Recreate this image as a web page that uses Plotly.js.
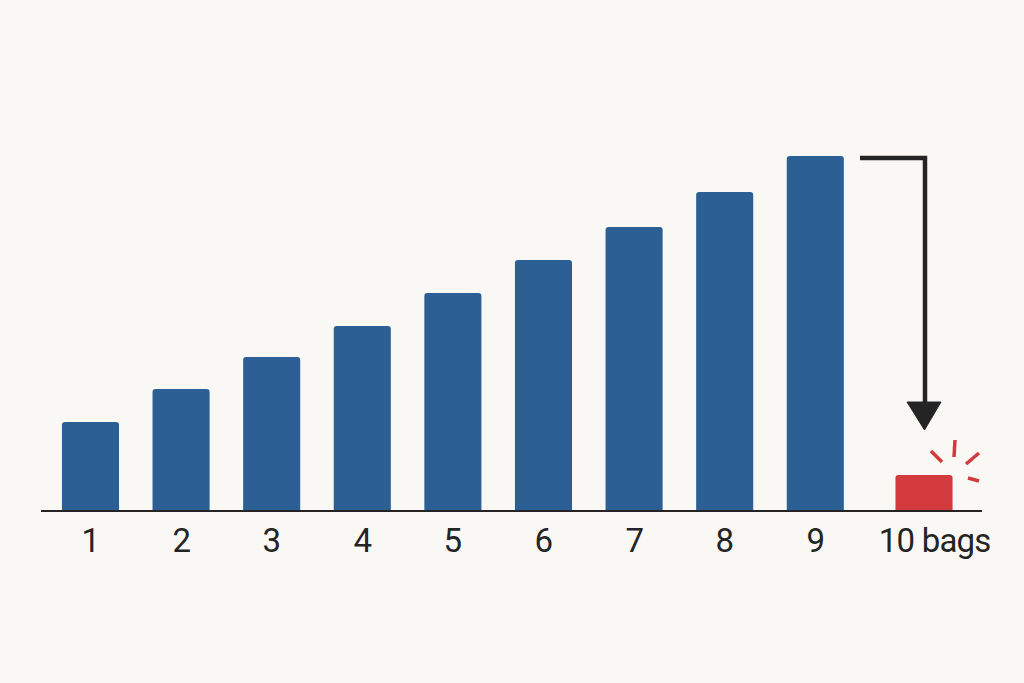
<!DOCTYPE html>
<html>
<head>
<meta charset="utf-8">
<script src="https://cdn.plot.ly/plotly-3.0.1.min.js"></script>
<style>
  html, body { margin: 0; padding: 0; background: #faf8f5; }
  #chart { width: 1024px; height: 683px; }
  #chart .annotation-text { letter-spacing: -0.8px; }
</style>
</head>
<body>
<div id="chart"></div>
<script>
// ---- data ----
const categories = ["1", "2", "3", "4", "5", "6", "7", "8", "9", "10"];
const tickLabels = ["1", "2", "3", "4", "5", "6", "7", "8", "9", "10 bags"];
const growingValues = [88, 121, 153, 184, 217, 250, 283, 318, 354];
const finalValue = [35];

// ---- layout geometry ----
const W = 1024, H = 683;
const M = { l: 41, r: 42, t: 110, b: 173 };
const plotW = W - M.l - M.r, plotH = H - M.t - M.b;
const px = x => (x - M.l) / plotW;           // pixel -> paper x
const py = y => (H - M.b - y) / plotH;        // pixel -> paper y

const blue = "#2c6094";
const red = "#d23a3d";
const ink = "#242424";
const barWidth = 0.63;

const traces = [
  {
    type: "bar",
    x: categories.slice(0, 9),
    y: growingValues,
    width: barWidth,
    marker: { color: blue, cornerradius: 3, line: { width: 0 } },
    hoverinfo: "skip"
  },
  {
    type: "bar",
    x: categories.slice(9),
    y: finalValue,
    width: barWidth,
    offset: -barWidth / 2 + 0.2,
    marker: { color: red, cornerradius: 3, line: { width: 0 } },
    hoverinfo: "skip"
  }
];

const annotations = tickLabels.map((t, i) => ({
  text: t,
  x: i,                       // category index on the category axis
  xref: "x",
  y: -30 / plotH,
  yref: "paper",
  xanchor: "center",
  yanchor: "middle",
  xshift: i === 9 ? 29 : 0,
  showarrow: false,
  font: { family: "Roboto, 'Liberation Sans', sans-serif", size: 33, color: ink }
}));

function seg(x0, y0, x1, y1, color, w) {
  return {
    type: "line", xref: "paper", yref: "paper",
    x0: px(x0), y0: py(y0), x1: px(x1), y1: py(y1),
    line: { color: color, width: w }
  };
}

const shapes = [
  // arrow from top of bar 9 down to the last bar
  {
    type: "path", xref: "paper", yref: "paper",
    path: `M ${px(860)} ${py(158)} L ${px(925)} ${py(158)} L ${px(925)} ${py(404)}`,
    line: { color: ink, width: 4.5 },
    fillcolor: "rgba(0,0,0,0)"
  },
  {
    type: "path", xref: "paper", yref: "paper",
    path: `M ${px(907)} ${py(402)} L ${px(941)} ${py(402)} L ${px(924.5)} ${py(430)} Z`,
    line: { color: ink, width: 1 },
    fillcolor: ink
  },
  // red burst marks
  seg(931, 451, 942, 462, red, 3.5),
  seg(955, 440, 954, 457, red, 3.5),
  seg(979, 453, 966, 464, red, 3.5),
  seg(968, 478, 979, 481, red, 3.5)
];

const layout = {
  width: W, height: H,
  margin: M,
  paper_bgcolor: "#faf8f5",
  plot_bgcolor: "#faf8f5",
  showlegend: false,
  barmode: "overlay",
  xaxis: {
    type: "category",
    categoryorder: "array",
    categoryarray: categories,
    range: [-0.546, 9.84],
    showgrid: false,
    zeroline: false,
    showline: true,
    linecolor: ink,
    linewidth: 2,
    showticklabels: false,
    ticks: "",
    fixedrange: true
  },
  yaxis: {
    range: [0, plotH],
    showgrid: false,
    zeroline: false,
    showline: false,
    showticklabels: false,
    ticks: "",
    fixedrange: true
  },
  annotations: annotations,
  shapes: shapes
};

Plotly.newPlot("chart", traces, layout, { displayModeBar: false, staticPlot: true });
</script>
</body>
</html>
